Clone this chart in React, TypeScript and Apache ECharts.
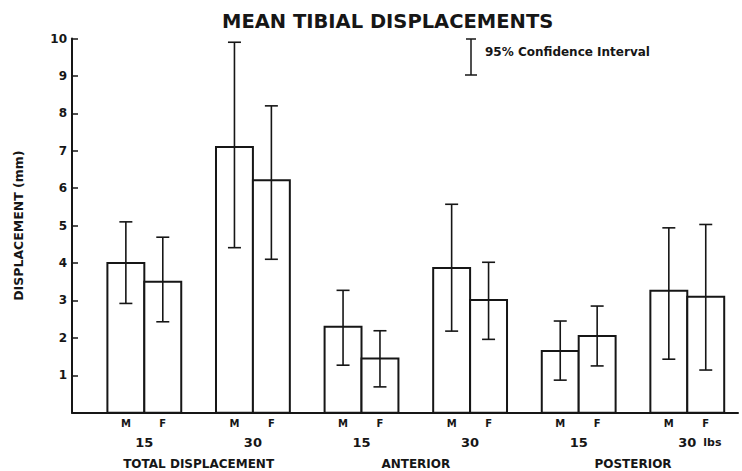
import React, { useEffect, useRef } from "react";
import * as echarts from "echarts";

const titleText = "MEAN TIBIAL DISPLACEMENTS";
const yAxisName = "DISPLACEMENT (mm)";
const legendText = "95% Confidence Interval";
const loads = ["15", "30", "15", "30", "15", "30"];
const unitLabel = "lbs";
const regions = ["TOTAL DISPLACEMENT", "ANTERIOR", "POSTERIOR"];
const sexes = ["M", "F"];
const male = [4.0, 7.1, 2.3, 3.87, 1.65, 3.26];
const maleLo = [2.92, 4.41, 1.27, 2.18, 0.87, 1.43];
const maleHi = [5.1, 9.9, 3.27, 5.57, 2.45, 4.94];
const female = [3.5, 6.21, 1.45, 3.01, 2.05, 3.1];
const femaleLo = [2.43, 4.1, 0.69, 1.96, 1.25, 1.14];
const femaleHi = [4.69, 8.2, 2.19, 4.02, 2.85, 5.03];

const FONT = "'DejaVu Sans', 'Liberation Sans', sans-serif";
const INK = "#161616";
const HALF = 0.34;

export default function App() {
  const ref = useRef<HTMLDivElement>(null);
  useEffect(() => {
    if (!ref.current) return;
    const chart = echarts.init(ref.current, null, { renderer: "svg" });

    const barData: number[][] = [];
    loads.forEach((_, i) => {
      barData.push([i, 0, male[i], maleLo[i], maleHi[i]]);
      barData.push([i, 1, female[i], femaleLo[i], femaleHi[i]]);
    });

    const option: any = {
      animation: false,
      backgroundColor: "#ffffff",
      title: {
        text: titleText,
        left: 217,
        top: 6,
        textStyle: { fontFamily: FONT, fontSize: 19.5, fontWeight: "bold", color: INK },
      },
      grid: { left: 72, right: 4, top: 38.5, bottom: 58.3 },
      xAxis: {
        type: "value",
        min: -0.666,
        max: 5.467,
        axisLine: { show: true, onZero: false, lineStyle: { color: INK, width: 2 } },
        axisTick: { show: false },
        axisLabel: { show: false },
        splitLine: { show: false },
      },
      yAxis: {
        type: "value",
        min: 0,
        max: 10,
        interval: 1,
        name: yAxisName,
        nameLocation: "middle",
        nameRotate: 90,
        nameGap: 47,
        nameTextStyle: { fontFamily: FONT, fontSize: 12.5, fontWeight: "bold", color: INK },
        axisLine: { show: true, onZero: false, lineStyle: { color: INK, width: 2 } },
        axisTick: { show: true, inside: true, length: 6, lineStyle: { color: INK, width: 1.5 } },
        axisLabel: {
          fontFamily: FONT,
          fontSize: 12,
          fontWeight: "bold",
          color: INK,
          margin: 5,
          formatter: (v: number) => (v === 0 ? "" : String(v)),
        },
        splitLine: { show: false },
      },
      graphic: [
        {
          type: "group",
          children: [
            { type: "line", shape: { x1: 471, y1: 39, x2: 471, y2: 75 }, style: { stroke: INK, lineWidth: 1.5 } },
            { type: "line", shape: { x1: 466, y1: 39, x2: 476, y2: 39 }, style: { stroke: INK, lineWidth: 1.5 } },
            { type: "line", shape: { x1: 465, y1: 75, x2: 477, y2: 75 }, style: { stroke: INK, lineWidth: 1.5 } },
            {
              type: "text",
              x: 485,
              y: 52,
              style: {
                text: legendText,
                font: `bold 12px ${FONT}`,
                fill: INK,
                textVerticalAlign: "middle",
              },
            },
          ],
        },
      ],
      series: [
        {
          type: "custom",
          data: barData,
          renderItem: (params: any, api: any) => {
            const i = api.value(0);
            const s = api.value(1);
            const v = api.value(2);
            const lo = api.value(3);
            const hi = api.value(4);
            const x0 = s === 0 ? i - HALF : i;
            const x1 = s === 0 ? i : i + HALF;
            const xc = (x0 + x1) / 2;
            const pTL = api.coord([x0, v]);
            const pBR = api.coord([x1, 0]);
            const pLo = api.coord([xc, lo]);
            const pHi = api.coord([xc, hi]);
            const cap = 6.5;
            return {
              type: "group",
              children: [
                {
                  type: "rect",
                  shape: { x: pTL[0], y: pTL[1], width: pBR[0] - pTL[0], height: pBR[1] - pTL[1] },
                  style: { fill: "#ffffff", stroke: INK, lineWidth: 2 },
                },
                {
                  type: "line",
                  shape: { x1: pLo[0], y1: pLo[1], x2: pHi[0], y2: pHi[1] },
                  style: { stroke: INK, lineWidth: 1.6 },
                },
                {
                  type: "line",
                  shape: { x1: pHi[0] - cap, y1: pHi[1], x2: pHi[0] + cap, y2: pHi[1] },
                  style: { stroke: INK, lineWidth: 1.6 },
                },
                {
                  type: "line",
                  shape: { x1: pLo[0] - cap, y1: pLo[1], x2: pLo[0] + cap, y2: pLo[1] },
                  style: { stroke: INK, lineWidth: 1.6 },
                },
              ],
            };
          },
        },
        {
          type: "custom",
          data: loads.map((l, i) => [i, 0]),
          renderItem: (params: any, api: any) => {
            const i = api.value(0);
            const idx = params.dataIndex;
            const pM = api.coord([i - HALF / 2, 0]);
            const pF = api.coord([i + HALF / 2, 0]);
            const pC = api.coord([i, 0]);
            const children: any[] = [
              {
                type: "text",
                x: pM[0],
                y: pM[1] + 11,
                style: { text: sexes[0], font: `bold 10px ${FONT}`, fill: INK, textAlign: "center", textVerticalAlign: "middle" },
              },
              {
                type: "text",
                x: pF[0],
                y: pF[1] + 11,
                style: { text: sexes[1], font: `bold 10px ${FONT}`, fill: INK, textAlign: "center", textVerticalAlign: "middle" },
              },
              {
                type: "text",
                x: pC[0],
                y: pC[1] + 29.5,
                style: { text: loads[idx], font: `bold 13px ${FONT}`, fill: INK, textAlign: "center", textVerticalAlign: "middle" },
              },
            ];
            if (idx === loads.length - 1) {
              children.push({
                type: "text",
                x: pC[0] + 16,
                y: pC[1] + 29.5,
                style: { text: unitLabel, font: `bold 11px ${FONT}`, fill: INK, textAlign: "left", textVerticalAlign: "middle" },
              });
            }
            return { type: "group", children };
          },
        },
        {
          type: "custom",
          data: regions.map((r, k) => [2 * k + 0.5, 0]),
          renderItem: (params: any, api: any) => {
            const p = api.coord([api.value(0), 0]);
            return {
              type: "text",
              x: p[0],
              y: p[1] + 51,
              style: {
                text: regions[params.dataIndex],
                font: `bold 12px ${FONT}`,
                fill: INK,
                textAlign: "center",
                textVerticalAlign: "middle",
              },
            };
          },
        },
      ],
    };
    chart.setOption(option);
    return () => chart.dispose();
  }, []);
  return <div ref={ref} style={{ width: 742, height: 471, position: "absolute", left: 0, top: 0 }} />;
}
